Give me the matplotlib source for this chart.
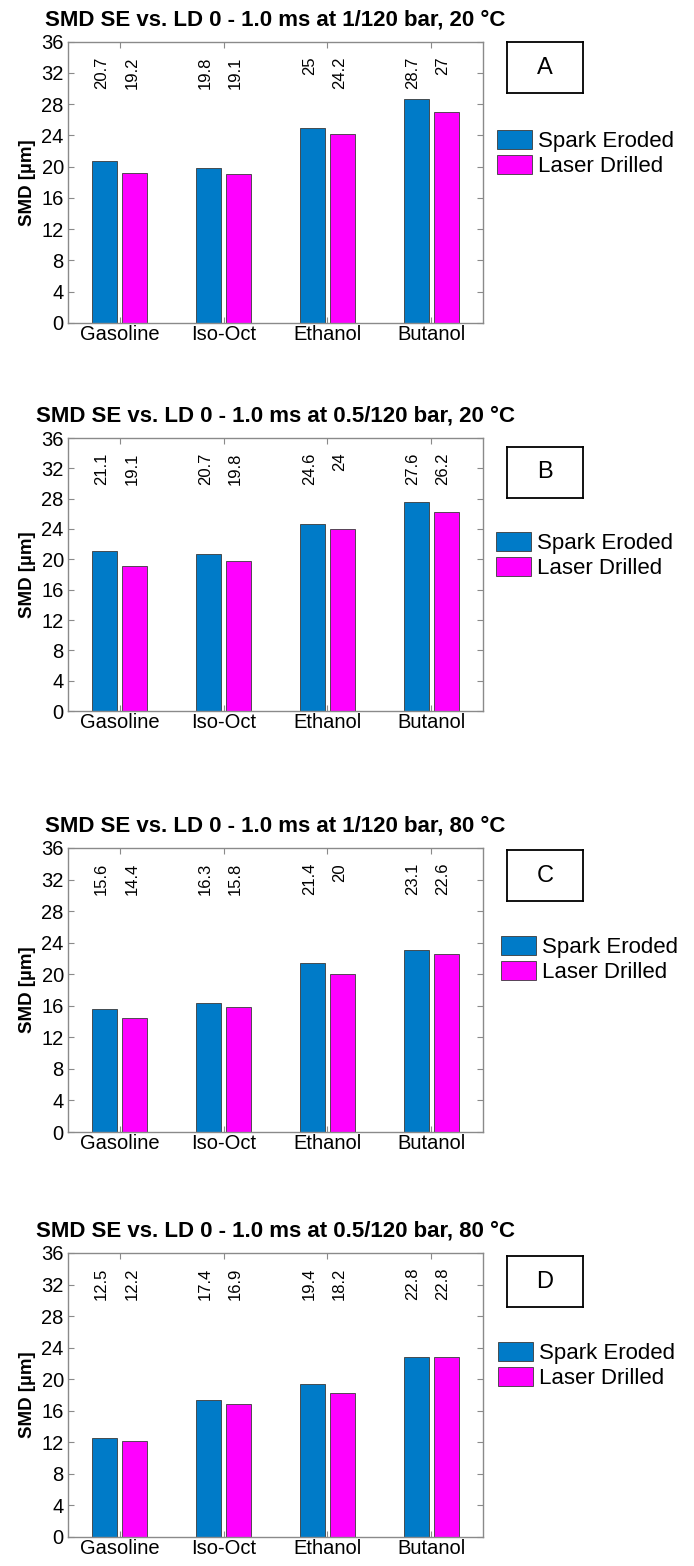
import numpy as np
import matplotlib
matplotlib.use('Agg')
import matplotlib.pyplot as plt
from matplotlib.patches import Patch

plt.rcParams['font.family'] = ['Liberation Sans', 'DejaVu Sans']

fuels = ['Gasoline', 'Iso-Oct', 'Ethanol', 'Butanol']
series_names = ['Spark Eroded', 'Laser Drilled']
panel_letters = ['A', 'B', 'C', 'D']
titles = ['SMD SE vs. LD 0 - 1.0 ms at 1/120 bar, 20 °C',
          'SMD SE vs. LD 0 - 1.0 ms at 0.5/120 bar, 20 °C',
          'SMD SE vs. LD 0 - 1.0 ms at 1/120 bar, 80 °C',
          'SMD SE vs. LD 0 - 1.0 ms at 0.5/120 bar, 80 °C']

# SMD [um] per fuel
se_A = [20.7, 19.8, 25.0, 28.7]
ld_A = [19.2, 19.1, 24.2, 27.0]
se_B = [21.1, 20.7, 24.6, 27.6]
ld_B = [19.1, 19.8, 24.0, 26.2]
se_C = [15.6, 16.3, 21.4, 23.1]
ld_C = [14.4, 15.8, 20.0, 22.6]
se_D = [12.5, 17.4, 19.4, 22.8]
ld_D = [12.2, 16.9, 18.2, 22.8]

yticks = np.arange(0, 37, 4)

se_all = [se_A, se_B, se_C, se_D]
ld_all = [ld_A, ld_B, ld_C, ld_D]

W, H = 694, 1566
c_se = '#007BC8'
c_ld = '#FF00FF'
spine_c = '#8a8a8a'

# layout in pixels: axes top/bottom, letter box top, legend top
ax_top = [41.7, 438, 848, 1253]
ax_bot = [323, 711, 1132, 1537]
box_top = [42, 447, 850, 1256]
leg_top = [130, 532, 936, 1342]
leg_left = [497, 496, 501, 498]

fig = plt.figure(figsize=(W / 100, H / 100), dpi=100)

for i in range(4):
    ax = fig.add_axes([68 / W, 1 - ax_bot[i] / H, 415 / W, (ax_bot[i] - ax_top[i]) / H])
    x = np.arange(1, 5)
    off = 0.145
    bw = 0.24
    ax.bar(x - off, se_all[i], bw, color=c_se, edgecolor='#3a3a3a', linewidth=0.6)
    ax.bar(x + off, ld_all[i], bw, color=c_ld, edgecolor='#3a3a3a', linewidth=0.6)
    for xx, v in zip(x - off, se_all[i]):
        ax.text(xx - 0.03, 34.1, '%g' % v, rotation=90, ha='center', va='top', fontsize=12)
    for xx, v in zip(x + off, ld_all[i]):
        ax.text(xx - 0.03, 34.1, '%g' % v, rotation=90, ha='center', va='top', fontsize=12)
    ax.set_xlim(0.5, 4.5)
    ax.set_ylim(0, 36)
    ax.set_xticks(x)
    ax.set_xticklabels(fuels, fontsize=14.5)
    ax.set_yticks(yticks)
    ax.set_yticklabels([str(t) for t in yticks], fontsize=14.5)
    ax.tick_params(direction='in', top=True, right=True, length=4, color=spine_c, pad=3)
    ax.tick_params(axis='x', pad=1.5)
    for s in ax.spines.values():
        s.set_color(spine_c)
        s.set_linewidth(1)
    ax.set_ylabel('SMD [µm]', fontsize=13.5, fontweight='bold', labelpad=4)
    ax.set_title(titles[i], fontsize=16, fontweight='bold', pad=12)

    # letter box
    bax = fig.add_axes([507 / W, 1 - (box_top[i] + 51) / H, 76 / W, 51 / H])
    bax.set_xticks([])
    bax.set_yticks([])
    for s in bax.spines.values():
        s.set_linewidth(1.3)
        s.set_color('black')
    bax.text(0.5, 0.5, panel_letters[i], ha='center', va='center', fontsize=17,
             transform=bax.transAxes)

    handles = [Patch(facecolor=c_se, edgecolor='#3a3a3a', linewidth=0.6),
               Patch(facecolor=c_ld, edgecolor='#3a3a3a', linewidth=0.6)]
    ax.legend(handles, series_names, loc='upper left',
              bbox_to_anchor=(leg_left[i] / W, 1 - leg_top[i] / H),
              bbox_transform=fig.transFigure, frameon=False, fontsize=16,
              handlelength=1.58, handleheight=0.95, handletextpad=0.25,
              labelspacing=0.12, borderpad=0, borderaxespad=0)

fig.savefig('out.png', dpi=100)
